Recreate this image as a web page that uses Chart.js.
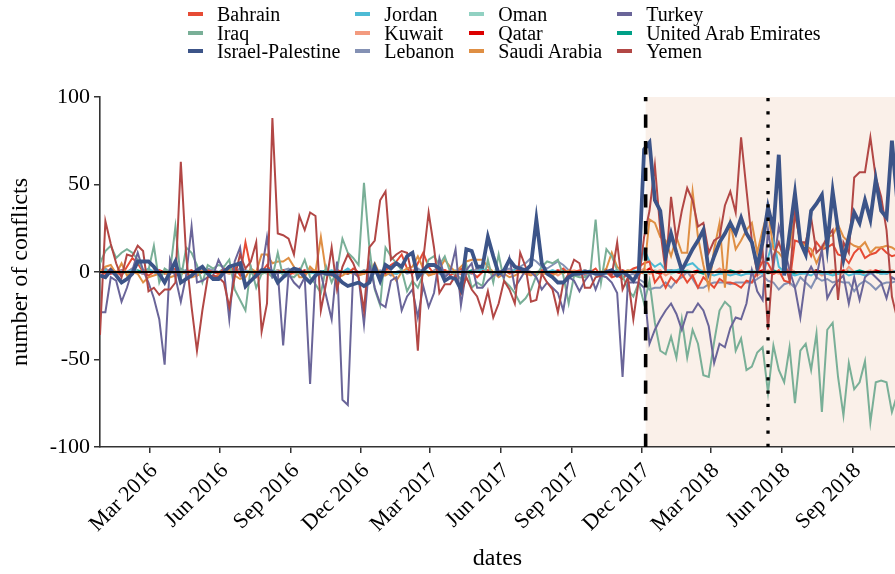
<!DOCTYPE html>
<html>
<head>
<meta charset="utf-8">
<script src="https://cdn.jsdelivr.net/npm/chart.js@4.4.0/dist/chart.umd.min.js"></script>
<style>
  html, body { margin: 0; padding: 0; background: #fff; }
  #wrap { position: relative; width: 895px; height: 574px; }
  #legend {
    position: absolute; left: 188px; top: 5px;
    display: grid; grid-template-rows: repeat(3, 18.5px); grid-auto-flow: column; column-gap: 15px;
    font-family: "Liberation Serif", serif; font-size: 20px; color: #000;
  }
  .item { display: flex; align-items: center; line-height: 18.5px; white-space: nowrap; }
  .key { width: 15px; height: 4px; margin-right: 14px; }
</style>
</head>
<body>
<div id="wrap">
  <canvas id="chart" width="895" height="574"></canvas>
  <div id="legend"></div>
</div>
<script>
// weekly change in conflict counts, one value per week from firstWeek on
const firstWeek = "2015-12-28";
const axisEnd = "2018-10-26";

const countries = ["Bahrain", "Iraq", "Israel-Palestine", "Jordan", "Kuwait", "Lebanon",
  "Oman", "Qatar", "Saudi Arabia", "Turkey", "United Arab Emirates", "Yemen"];
const colors = ["#E64B35", "#79AF97", "#3C5488", "#4DBBD5", "#F39B7F", "#8491B4",
  "#91D1C2", "#DC0000", "#DF8F44", "#6A6599", "#00A087", "#B24745"];
// lower number = drawn later (on top)
const drawOrder = [5, 3, 0, 6, 8, 7, 11, 9, 4, 2, 10, 1];

const bahrain = [
  0, -1, 2, 0, -2, 3, 8, 5, 0, -2,
  0, 1, -1, 0, 2, -1, 0, 1, -2, 0,
  1, 0, -1, 2, 0, 3, -2, 17, 2, -3,
  0, 4, -1, 0, 1, -2, 0, 2, -1, 0,
  1, -1, 0, -2, 1, 0, -1, 2, 0, -1,
  3, 0, -2, 1, 4, 6, 10, 2, -1, 5,
  11, 3, -1, 0, 1, -2, 0, 2, -1, 0,
  -3, 0, 1, -2, 0, 1, -1, 0, 2, -1,
  0, -2, 1, 0, -1, 0, 2, -1, 0, 1,
  -1, 0, 2, -2, 0, -3, -2, -4, 0, 2,
  3, 5, 6, -6, -2, -9, -3, -6, -1, -6,
  -2, -9, -3, -6, -9, -4, -6, -6, -7, -9,
  -5, -6, 0, 6, 5, -1, 1, -5, -6, 18,
  17, 16, 9, 17, 13, 14, 16, 10, 9, 5,
  11, 14, 8, 10, 11, 14, 11, 9, 10
];
const iraq = [
  5, 12, 15, 8, 11, 13, 11, 7, 1, 1,
  15, -6, 2, 0, 26, -4, 14, 11, 4, -6,
  4, 2, 4, 3, 7, -10, -16, -22, 3, -9,
  -1, 0, -3, 11, -3, -2, -3, 0, 7, -3,
  -7, -12, 3, -6, 1, 19, 11, 8, 4, 51,
  14, -10, -19, 14, 9, 5, 1, -11, -5, -9,
  -1, 7, 9, 4, 9, 0, -1, -4, 4, -9,
  -6, -8, 7, -6, 10, -5, -8, -12, -18, -15,
  -10, -2, 3, 6, 5, 7, -2, -18, -2, -3,
  -3, -1, 30, -6, 13, 9, 1, -2, -10, -14,
  -6, -18, -5, -29, -45, -47, -37, -49, -27, -49,
  -33, -41, -59, -60, -40, -22, -17, -20, -45, -38,
  -56, -54, -46, -43, -69, -42, -56, -63, -43, -75,
  -45, -41, -56, -35, -80, -33, -29, -60, -82, -52,
  -67, -63, -51, -86, -63, -62, -63, -80, -70
];
const israelPalestine = [
  -2, -3, 1, -2, -6, -4, -1, 6, 6, 6,
  3, -1, -6, 0, 6, -6, -4, -2, 1, 3,
  -1, -4, -4, 0, 3, 4, 5, -8, -5, -2,
  1, 1, 0, -6, -3, 0, 2, 1, -3, -6,
  -2, 0, -1, -1, -3, -6, -8, -7, -6, -8,
  -6, 3, -5, 4, 2, 5, 3, 9, 11, -3,
  1, 4, 4, 2, -5, -3, -4, -10, 13, 12,
  3, 3, 20, 9, -1, 1, 7, 3, 2, 1,
  4, 30, 5, -1, -3, -6, -6, -3, -1, -1,
  0, 0, -1, -1, 0, 1, -2, 0, -2, -5,
  0, 70, 74, 41, 35, 9, 22, 11, 1, 7,
  13, 18, 24, 0, 9, 17, 22, 28, 22, 31,
  22, 17, 3, 17, 37, 24, 67, -2, 22, 45,
  17, 10, 35, 39, 44, 15, 46, 24, 7, 20,
  34, 28, 41, 30, 53, 35, 31, 75, 40
];
const jordan = [
  0, 1, 0, 0, -1, 0, 1, 0, 0, 2,
  0, 0, -1, 0, 1, 0, 0, 0, -1, 0,
  1, 0, 0, 2, 0, 0, -1, 0, 1, 0,
  0, 0, 1, 0, -1, 0, 0, 1, 0, 0,
  -1, 0, 0, 1, 0, 0, 2, 0, 0, -1,
  0, 1, 0, 0, 0, -1, 0, 1, 0, 0,
  1, 0, 0, -1, 0, 0, 1, 0, 0, 0,
  0, 2, 0, 0, -1, 0, 0, 1, 0, 0,
  0, -1, 0, 0, 1, 0, 0, 0, -1, 0,
  1, 0, 0, 0, -1, 0, 1, 0, 0, 1,
  0, 13, 6, 3, 5, 1, 1, 1, 2, 4,
  5, 2, 0, -1, -2, -1, -1, -2, -1, -2,
  -1, -1, 0, -1, 8, 19, 3, 0, -1, -2,
  -1, -1, -2, 0, -1, -1, -2, -1, 0, -2,
  -1, -1, -2, -1, 0, -1, -1, 0, 1
];
const kuwait = [
  0, 1, 0, -1, 0, 0, 2, 0, -1, 0,
  1, 0, 0, -1, 0, 1, 0, 0, -2, 0,
  0, 1, 0, 0, -1, 0, 2, 1, 0, 0,
  -1, 0, 0, 1, 0, 0, -1, 0, 0, 2,
  0, 0, -1, 0, 1, 0, 0, 0, -1, 0,
  1, 0, 0, 2, 0, -1, 0, 0, 1, 0,
  0, -1, 0, 0, 1, 0, 0, -1, 0, 0,
  2, 0, 0, -1, 0, 0, 1, 0, 0, 0,
  -1, 0, 1, 0, 0, -2, 0, 0, 1, 0,
  0, -1, 0, 0, 1, 0, -1, 0, 0, 1,
  0, 2, -1, 0, 1, -2, 0, 1, -1, 0,
  -2, 0, 1, -1, 0, 2, 0, -1, 0, 1,
  -1, 0, -2, 0, 1, 0, -1, 0, 2, 0,
  -1, 0, 1, 0, -2, 0, 1, 0, -1, 3,
  0, -1, 0, 1, 0, -1, 0, 1, 0
];
const lebanon = [
  1, 2, 0, -1, 1, 0, 2, 0, -1, 1,
  0, -2, 1, 0, -1, 2, 0, 1, -1, 0,
  2, 1, 0, -1, 1, 0, 2, 1, -1, 0,
  1, 0, -1, 0, 1, 2, 0, -1, 0, 1,
  0, -1, 1, 0, -2, 0, 1, 0, -1, 1,
  0, -1, 1, 0, -2, 0, 1, -1, 0, 2,
  0, -1, 1, 3, -1, 0, -2, 1, 0, -1,
  2, 0, 1, -1, 0, 1, 2, 0, 3, 5,
  8, 6, 3, 2, 4, 6, 4, 1, -1, 0,
  -2, -1, 0, -2, -1, 0, -1, -3, -2, -1,
  -4, -6, -10, -9, -9, -6, -9, -5, -3, 0,
  -4, -9, -9, -7, -6, -6, -6, -7, -6, -6,
  -6, -6, -4, -2, -5, -6, -10, -7, -6, -9,
  -3, -6, -9, -3, -5, -4, -6, -5, -6, -6,
  -11, -7, -5, -7, -10, -7, -6, -6, -5
];
const oman = [
  0, 0, 1, 0, 0, -1, 0, 0, 1, 0,
  0, 0, 0, 1, 0, 0, -1, 0, 0, 0,
  1, 0, 0, 0, -1, 0, 0, 1, 0, 0,
  0, -1, 0, 0, 0, 1, 0, 0, 0, -1,
  0, 0, 1, 0, 0, 0, -1, 0, 0, 1,
  0, 0, 0, -1, 0, 0, 1, 0, 0, 0,
  -1, 0, 0, 1, 0, 0, 0, -1, 0, 0,
  1, 0, 0, 0, -1, 0, 0, 1, 0, 0,
  0, -1, 0, 0, 1, 0, 0, 0, -1, 0,
  0, 1, 0, 0, 0, -1, 0, 0, 1, 0,
  0, -1, 0, 1, 0, 0, -1, 0, 0, 1,
  0, 0, -1, 0, 0, 1, 0, 0, -1, 0,
  0, 1, 0, 0, -1, 0, 0, 1, 0, 0,
  -1, 0, 0, 1, 0, 0, -1, 0, 0, 1,
  0, 0, -1, 0, 0, 1, 0, 0, 0
];
const qatar = [
  0, 0, -1, 0, 1, 0, 0, 0, -1, 0,
  0, 1, 0, 0, 0, -1, 0, 0, 1, 0,
  0, 0, -1, 0, 0, 1, 0, 0, 0, -1,
  0, 1, 0, 0, -1, 0, 0, 0, 1, 0,
  0, -1, 0, 0, 1, 0, 0, 0, -1, 0,
  1, 0, 0, -1, 0, 0, 0, 1, 0, 0,
  0, -1, 0, 0, 1, 0, 0, -1, 0, 0,
  0, 1, 0, 0, -1, 0, 0, 0, 1, 0,
  0, -1, 0, 0, 0, 1, 0, 0, -1, 0,
  1, 0, 0, 0, -1, 0, 0, 1, 0, 0,
  -1, 0, 2, 0, -1, 0, 1, 0, -1, 0,
  0, 1, 0, -1, 0, 0, 1, 0, -1, 0,
  0, -1, 0, 1, 0, -1, 0, 0, 1, 0,
  -1, 0, 0, 1, 0, -1, 0, 0, 1, 0,
  0, -1, 0, 0, 1, 0, -1, 0, 0
];
const saudiArabia = [
  0, 3, 4, -1, 5, -2, 0, -1, -6, -3,
  -2, -1, 0, -3, -2, -1, 0, -3, -2, 1,
  -1, -3, -2, 0, 1, -2, -4, -3, 2, 0,
  10, 10, 5, 6, 6, 8, 3, -3, -3, 3,
  0, 20, -1, 0, -3, -2, 0, -1, -2, -1,
  0, 5, -2, -2, 0, -5, 0, 2, 3, 9,
  2, -2, -1, 2, 7, 3, 0, 3, 6, 7,
  7, 7, 3, 0, -3, -1, -3, -2, 0, -1,
  -2, 0, -1, -1, -2, 0, -1, 1, 0, -1,
  0, 0, -1, 0, 2, 11, 3, 0, 1, 0,
  -1, 0, 30, 28, 20, 18, 9, 20, 11, 11,
  46, 20, 4, -9, 13, 28, -9, 28, 13, 18,
  24, 28, 11, 24, 35, 13, 11, 7, 14, 33,
  17, 15, 13, 5, 12, 20, 21, 27, 20, 17,
  15, 14, 17, 11, 14, 14, 15, 14, 12
];
const turkey = [
  -23, -23, -3, -5, -17, -9, 1, 11, 1, -6,
  -15, -27, -53, 7, -3, -17, -2, 26, -6, -5,
  -3, -2, 7, 1, -27, 6, 14, -9, -5, -2,
  0, 20, -3, 0, -42, -1, -6, -9, -3, -64,
  -2, -1, -14, -27, 6, -73, -76, 0, -3, -30,
  5, -9, -18, -20, -5, -3, -22, -14, -10, -26,
  -8, -20, -12, 8, -3, 0, 13, -19, 1, 5,
  -9, -9, -5, -2, 0, -3, 8, -9, -4, 1,
  0, -3, -10, -6, -9, -12, -22, -3, -5, -11,
  -5, -1, -10, -2, -3, -6, -12, -60, -6, -6,
  -6, -9, -41, -33, -27, -22, -18, -24, -33, -23,
  -23, -18, -22, -31, -52, -41, -43, -32, -26, -27,
  -18, 1, -11, -16, 24, 3, 26, 14, 1, -9,
  -26, -3, 3, -3, 13, -15, -9, -5, -2, -18,
  -3, -16, -3, 0, -3, -6, -15, -3, -5
];
const uae = [
  0, 0, 0, -1, 0, 0, 0, 1, 0, 0,
  0, -1, 0, 0, 0, 0, 1, 0, 0, 0,
  -1, 0, 0, 0, 0, 1, 0, 0, 0, -1,
  0, 0, 0, 1, 0, 0, 0, 0, -1, 0,
  0, 0, 1, 0, 0, 0, -1, 0, 0, 0,
  0, 1, 0, 0, 0, -1, 0, 0, 0, 0,
  1, 0, 0, 0, -1, 0, 0, 0, 0, 1,
  0, 0, 0, -1, 0, 0, 0, 1, 0, 0,
  0, 0, -1, 0, 0, 0, 1, 0, 0, 0,
  0, -1, 0, 0, 0, 0, 1, 0, 0, 0,
  0, 1, 0, 0, -1, 0, 0, 0, 1, 0,
  0, 0, -1, 0, 0, 0, 0, 1, 0, 0,
  0, -1, 0, 0, 0, 1, 0, 0, 0, -1,
  0, 0, 0, 1, 0, 0, 0, -1, 0, 0,
  0, 1, 0, 0, 0, -1, 0, 0, 0
];
const yemen = [
  -36, 29, 16, 5, -3, 10, 9, 15, 12, -11,
  -9, -13, -10, -10, -6, 63, 9, -20, -45, -22,
  -3, -2, -3, -6, -20, -3, 10, 2, 6, 17,
  -34, -18, 88, 22, 21, 19, 10, 32, 24, 34,
  32, -22, -6, 14, -10, 3, 10, 5, -3, -22,
  14, 18, 41, 46, 7, 10, 12, 11, -3, -45,
  7, 34, 14, -12, -7, -7, -2, -12, -3, -10,
  -14, -23, -11, -26, -18, -5, -10, -18, 11, 3,
  -17, -16, -1, -6, -10, -23, -6, -1, 7, 5,
  -9, -9, -3, -2, 1, -2, 17, -10, -3, -27,
  -5, 20, 35, 61, 24, 0, 43, 18, 35, 48,
  41, 26, 28, 11, 18, 20, 38, 46, 34, 77,
  47, 18, -1, 12, -33, 9, 17, 7, -5, 34,
  17, 17, 31, 11, 14, 20, 24, -16, 17, 11,
  54, 57, 57, 77, 54, 43, 24, -14, -27
];
const series = [bahrain, iraq, israelPalestine, jordan, kuwait, lebanon,
  oman, qatar, saudiArabia, turkey, uae, yemen];

const tickDates = ["2016-03-01", "2016-06-01", "2016-09-01", "2016-12-01", "2017-03-01",
  "2017-06-01", "2017-09-01", "2017-12-01", "2018-03-01", "2018-06-01", "2018-09-01"];
const tickLabels = ["Mar 2016", "Jun 2016", "Sep 2016", "Dec 2016", "Mar 2017",
  "Jun 2017", "Sep 2017", "Dec 2017", "Mar 2018", "Jun 2018", "Sep 2018"];
const yTicks = [-100, -50, 0, 50, 100];
// Jerusalem recognition, embassy move
const eventDates = ["2017-12-06", "2018-05-14"];

const serif = "'Liberation Serif', 'DejaVu Serif', serif";
const DAY = 86400000;
const dayOf = (s) => (Date.parse(s) - Date.parse("2016-01-01")) / DAY;
const weekDays = yemen.map((_, k) => dayOf(firstWeek) + 7 * k);

// legend, filled column by column
const legendBox = document.getElementById("legend");
countries.forEach((name, i) => {
  const item = document.createElement("div");
  item.className = "item";
  item.innerHTML = `<span class="key" style="background:${colors[i]}"></span><span>${name}</span>`;
  legendBox.appendChild(item);
});

const eventsPlugin = {
  id: "events",
  beforeDatasetsDraw(chart) {
    const { ctx, chartArea, scales } = chart;
    const x0 = scales.x.getPixelForValue(dayOf(eventDates[0]));
    ctx.save();
    ctx.fillStyle = "#FAF0E9";
    ctx.fillRect(x0, chartArea.top, chartArea.right - x0, chartArea.bottom - chartArea.top - 1);
    ctx.restore();
  },
  afterDatasetsDraw(chart) {
    const { ctx, chartArea, scales } = chart;
    ctx.save();
    // zero line
    const y0 = scales.y.getPixelForValue(0);
    ctx.strokeStyle = "#000";
    ctx.lineWidth = 1.8;
    ctx.beginPath();
    ctx.moveTo(chartArea.left, y0);
    ctx.lineTo(chartArea.right, y0);
    ctx.stroke();

    const drawVline = (date, dash, width) => {
      const x = scales.x.getPixelForValue(dayOf(date));
      ctx.setLineDash(dash);
      ctx.lineWidth = width;
      ctx.beginPath();
      ctx.moveTo(x, chartArea.bottom);
      ctx.lineTo(x, chartArea.top);
      ctx.stroke();
    };
    drawVline(eventDates[0], [13.3, 13.3], 3.6);
    drawVline(eventDates[1], [3.3, 10], 3.3);
    ctx.restore();
  },
};

const ctx = document.getElementById("chart").getContext("2d");
new Chart(ctx, {
  type: "line",
  data: {
    datasets: countries.map((name, i) => ({
      label: name,
      data: series[i].map((v, k) => ({ x: weekDays[k], y: v })),
      borderColor: colors[i],
      backgroundColor: colors[i],
      borderWidth: name === "Israel-Palestine" ? 3.8 : 2,
      pointRadius: 0,
      tension: 0,
      fill: false,
      order: drawOrder[i],
    })),
  },
  options: {
    responsive: false,
    animation: false,
    layout: { padding: { top: 97, right: 0, bottom: 0, left: 0 } },
    plugins: { legend: { display: false }, tooltip: { enabled: false } },
    scales: {
      x: {
        type: "linear",
        min: dayOf(firstWeek),
        max: dayOf(axisEnd),
        afterBuildTicks: (scale) => {
          scale.ticks = tickDates.map((d) => ({ value: dayOf(d) }));
        },
        afterFit: (scale) => { scale.height = 127; },
        ticks: {
          autoSkip: false,
          minRotation: 45,
          maxRotation: 45,
          padding: 5,
          labelOffset: 5,
          color: "#000",
          font: { family: serif, size: 22 },
          callback: (value, i) => tickLabels[i],
        },
        grid: { drawOnChartArea: false, drawTicks: true, tickLength: 6, color: "#333", lineWidth: 1.5 },
        border: { display: true, color: "#333", width: 1.6 },
        title: {
          display: true, text: "dates", color: "#000",
          font: { family: serif, size: 24 },
          padding: { top: 0, bottom: 1 },
        },
      },
      y: {
        min: -100,
        max: 100,
        afterBuildTicks: (scale) => {
          scale.ticks = yTicks.map((v) => ({ value: v }));
        },
        afterFit: (scale) => { scale.width = 100; },
        ticks: { color: "#000", padding: 4, font: { family: serif, size: 22 } },
        grid: { drawOnChartArea: false, drawTicks: true, tickLength: 6, color: "#333", lineWidth: 1.5 },
        border: { display: true, color: "#333", width: 1.6 },
        title: {
          display: true, text: "number of conflicts", color: "#000",
          font: { family: serif, size: 24 },
          padding: { top: 6, bottom: 0 },
        },
      },
    },
  },
  plugins: [eventsPlugin],
});
</script>
</body>
</html>
